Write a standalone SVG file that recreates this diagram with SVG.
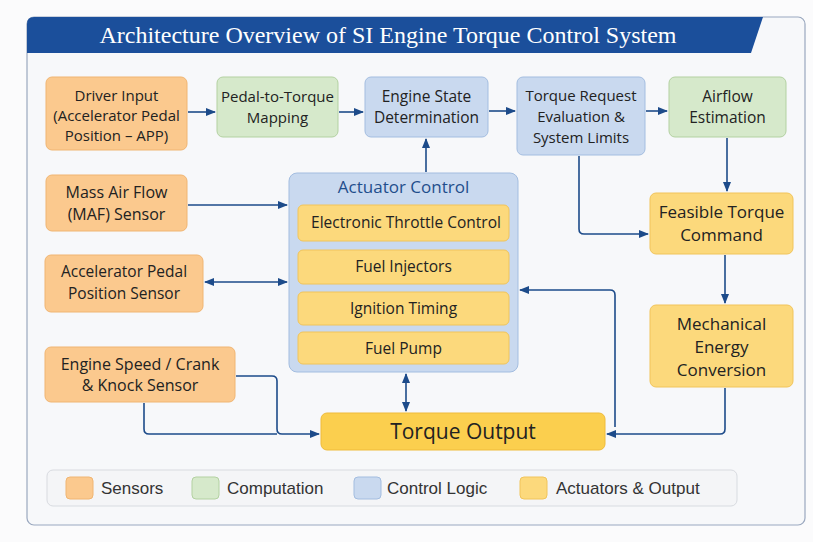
<svg xmlns="http://www.w3.org/2000/svg" width="813" height="542" viewBox="0 0 813 542">
<style>
.t{font-family:"Open Sans","Noto Sans","Liberation Sans",sans-serif;fill:#222;text-anchor:middle;font-weight:500}
.s{fill:#fbc98e;stroke:#f0b572;stroke-width:1}
.g{fill:#d6e9cb;stroke:#b3d1a1;stroke-width:1}
.b{fill:#c9d9ef;stroke:#a3bde0;stroke-width:1}
.y{fill:#fcd97c;stroke:#f1c45a;stroke-width:1}
.c{fill:none;stroke:#1d4b8a;stroke-width:1.6}
.lg{font-family:"Liberation Sans","Open Sans",sans-serif;font-size:17px;fill:#333}
</style>
<defs>
<marker id="ah" markerWidth="10" markerHeight="10" refX="9" refY="5" orient="auto" markerUnits="userSpaceOnUse">
<path d="M0,1 L10,5 L0,9 z" fill="#1d4b8a"/>
</marker>
<marker id="as" markerWidth="10" markerHeight="10" refX="1" refY="5" orient="auto" markerUnits="userSpaceOnUse">
<path d="M10,1 L0,5 L10,9 z" fill="#1d4b8a"/>
</marker>
</defs>
<rect width="813" height="542" fill="#fbfbfc"/>
<rect x="27" y="17" width="778" height="508" rx="7" fill="#f7f8fa" stroke="#9aa8bf" stroke-width="1.2"/>
<path d="M27,24 Q27,17 34,17 H763 L751,53 H27 Z" fill="#1b4f9b"/>
<text x="388" y="43" text-anchor="middle" font-family="Liberation Serif,serif" font-size="24" fill="#ffffff">Architecture Overview of SI Engine Torque Control System</text>

<g id="connectors">
<path class="c" d="M188,112 H215" marker-end="url(#ah)"/>
<path class="c" d="M339,112 H363" marker-end="url(#ah)"/>
<path class="c" d="M489,111 H515" marker-end="url(#ah)"/>
<path class="c" d="M646,111 H667" marker-end="url(#ah)"/>
<path class="c" d="M426,172 V139" marker-end="url(#ah)"/>
<path class="c" d="M188,205 H287" marker-end="url(#ah)"/>
<path class="c" d="M205,282 H287" marker-start="url(#as)" marker-end="url(#ah)"/>
<path class="c" d="M579,156 V229 Q579,234 584,234 H648" marker-end="url(#ah)"/>
<path class="c" d="M727,138 V191" marker-end="url(#ah)"/>
<path class="c" d="M725,255 V303" marker-end="url(#ah)"/>
<path class="c" d="M725,388 V429 Q725,434 720,434 H607" marker-end="url(#ah)"/>
<path class="c" d="M615,427 V295 Q615,290 610,290 H520" marker-end="url(#ah)"/>
<path class="c" d="M406,374 V411" marker-start="url(#as)" marker-end="url(#ah)"/>
<path class="c" d="M236,376 H272 Q277,376 277,381 V429 Q277,434 282,434 H319" marker-end="url(#ah)"/>
<path class="c" d="M144,403 V429 Q144,434 149,434 H277"/>
</g>

<g id="driver-input">
<rect class="s" x="46" y="77" width="141" height="73" rx="6"/>
<text class="t" font-size="15"><tspan x="116.5" y="101">Driver Input</tspan><tspan x="116.5" y="121">(Accelerator Pedal</tspan><tspan x="116.5" y="141">Position – APP)</tspan></text>
</g>
<g id="pedal-to-torque">
<rect class="g" x="217" y="77" width="121" height="60" rx="6"/>
<text class="t" font-size="15"><tspan x="277.5" y="102">Pedal-to-Torque</tspan><tspan x="277.5" y="123">Mapping</tspan></text>
</g>
<g id="engine-state">
<rect class="b" x="365" y="77" width="123" height="60" rx="6"/>
<text class="t" font-size="15.5"><tspan x="426.5" y="102">Engine State</tspan><tspan x="426.5" y="123">Determination</tspan></text>
</g>
<g id="torque-request">
<rect class="b" x="517" y="77" width="128" height="78" rx="6"/>
<text class="t" font-size="15"><tspan x="581" y="101">Torque Request</tspan><tspan x="581" y="122">Evaluation &amp;</tspan><tspan x="581" y="143">System Limits</tspan></text>
</g>
<g id="airflow">
<rect class="g" x="669" y="77" width="117" height="60" rx="6"/>
<text class="t" font-size="15.5"><tspan x="727.5" y="102">Airflow</tspan><tspan x="727.5" y="123">Estimation</tspan></text>
</g>
<g id="maf">
<rect class="s" x="46" y="175" width="141" height="56" rx="6"/>
<text class="t" font-size="16"><tspan x="116.5" y="198">Mass Air Flow</tspan><tspan x="116.5" y="220">(MAF) Sensor</tspan></text>
</g>
<g id="app-sensor">
<rect class="s" x="45" y="255" width="158" height="57" rx="6"/>
<text class="t" font-size="15.5"><tspan x="124" y="277">Accelerator Pedal</tspan><tspan x="124" y="299">Position Sensor</tspan></text>
</g>
<g id="crank-sensor">
<rect class="s" x="45" y="347" width="190" height="55" rx="6"/>
<text class="t" font-size="16"><tspan x="140" y="370">Engine Speed / Crank</tspan><tspan x="140" y="391">&amp; Knock Sensor</tspan></text>
</g>
<g id="actuator-control">
<rect class="b" x="289" y="173" width="229" height="199" rx="8"/>
<text class="t" font-size="17" x="403.5" y="193" style="fill:#1f4e8c">Actuator Control</text>
<rect class="y" x="298" y="205" width="211" height="36" rx="5"/>
<text class="t" font-size="15.5" x="406" y="228">Electronic Throttle Control</text>
<rect class="y" x="298" y="250" width="211" height="34" rx="5"/>
<text class="t" font-size="15.5" x="403.5" y="272">Fuel Injectors</text>
<rect class="y" x="298" y="292" width="211" height="33" rx="5"/>
<text class="t" font-size="15.5" x="403.5" y="314">Ignition Timing</text>
<rect class="y" x="298" y="332" width="211" height="32" rx="5"/>
<text class="t" font-size="15.5" x="403.5" y="354">Fuel Pump</text>
</g>
<g id="feasible-torque">
<rect class="y" x="650" y="193" width="143" height="61" rx="6"/>
<text class="t" font-size="17"><tspan x="721.5" y="218">Feasible Torque</tspan><tspan x="721.5" y="241">Command</tspan></text>
</g>
<g id="mechanical-energy">
<rect class="y" x="650" y="305" width="143" height="82" rx="6"/>
<text class="t" font-size="17"><tspan x="721.5" y="330">Mechanical</tspan><tspan x="721.5" y="353">Energy</tspan><tspan x="721.5" y="376">Conversion</tspan></text>
</g>
<g id="torque-output">
<rect x="321" y="413" width="284" height="37" rx="6" fill="#fbcf4e" stroke="#efbb3a"/>
<text class="t" font-size="21" x="463" y="439">Torque Output</text>
</g>

<g id="legend">
<rect x="47" y="470" width="690" height="36" rx="6" fill="#f4f5f7" stroke="#d8dbe0"/>
<rect class="s" x="66" y="477" width="27" height="22" rx="4"/>
<text class="lg" x="101" y="494">Sensors</text>
<rect class="g" x="192" y="477" width="27" height="22" rx="4"/>
<text class="lg" x="227" y="494">Computation</text>
<rect class="b" x="354" y="477" width="27" height="22" rx="4"/>
<text class="lg" x="387" y="494">Control Logic</text>
<rect class="y" x="520" y="477" width="27" height="22" rx="4"/>
<text class="lg" x="556" y="494">Actuators &amp; Output</text>
</g>
</svg>
